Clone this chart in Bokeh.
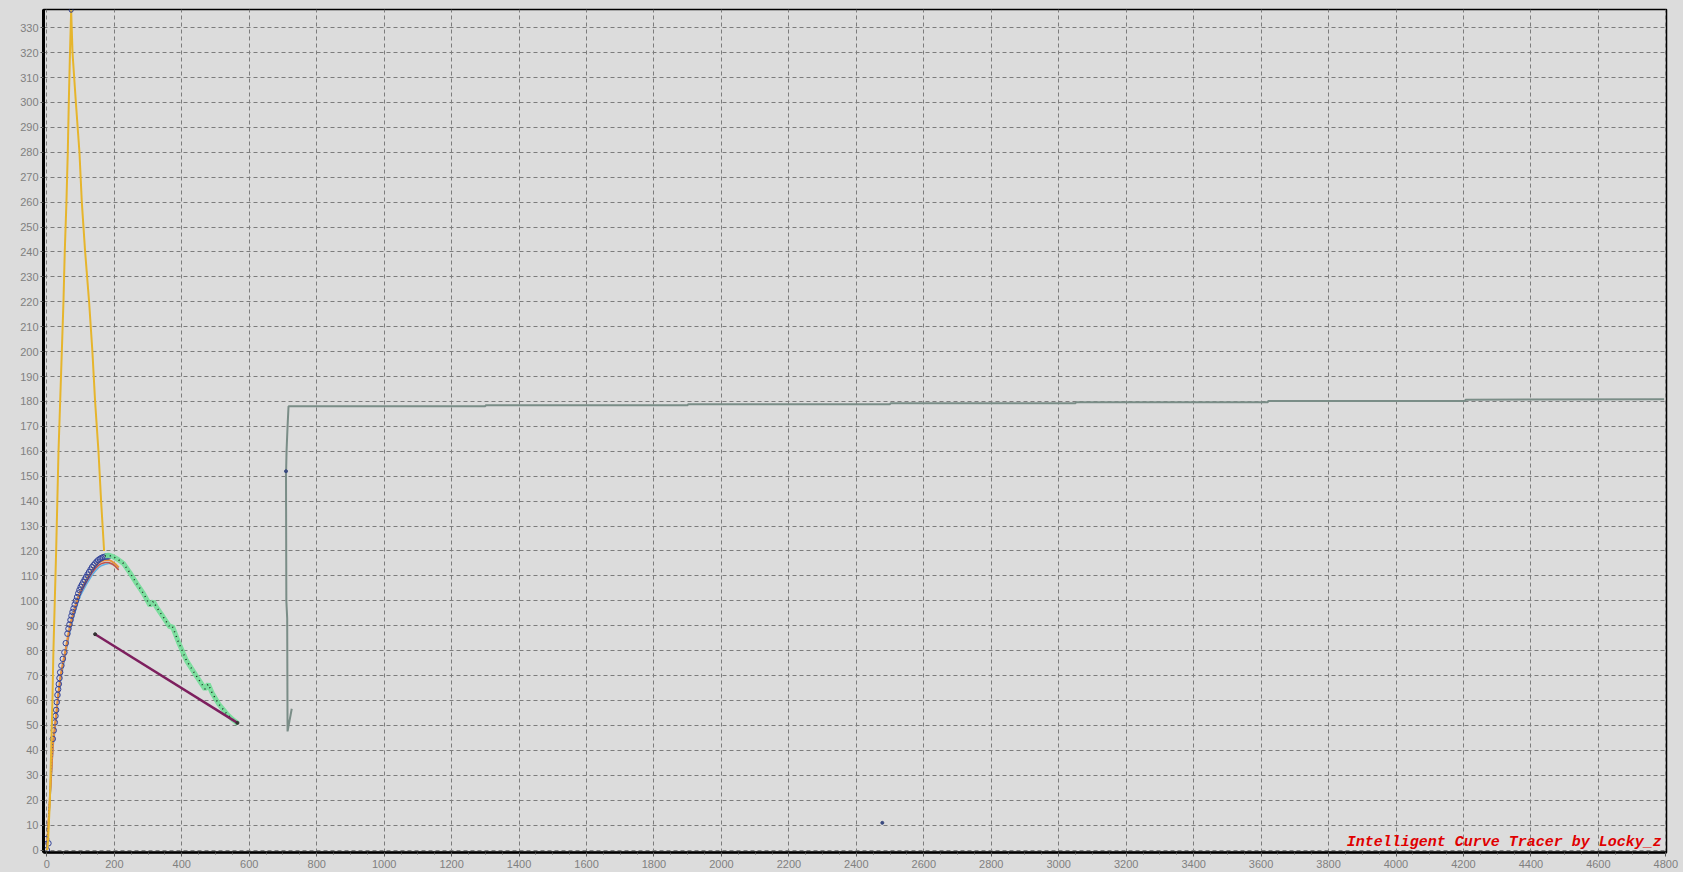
from bokeh.plotting import figure
from bokeh.models import SingleIntervalTicker, Range1d, Label
from bokeh.embed import file_html
from bokeh.resources import INLINE

# ---------------- data ----------------
yellow_x = [1, 4, 9, 12.7, 16.5, 19.4, 27.5, 34.5, 39.4, 44.3, 49.2, 53, 58, 62, 65, 68, 72,
            76, 86, 96.6, 103.6, 113.5, 125.2, 135, 143, 153, 160.8, 169.7]
yellow_y = [0, 5, 20, 40, 60, 80, 120, 160, 180, 200, 220, 240, 260, 280, 300, 317, 337,
            320, 300, 280, 260, 240, 220, 200, 180, 160, 140, 120]

circ_x = [0, 4.7, -2, 17.6, 20.5, 23.6, 25.5, 27.5, 29.5, 31.5, 33.5, 35.4, 37.4, 39.4, 43, 47.3,
          52, 56, 61, 64, 67, 70, 73, 76, 79, 82.5, 86, 89.5, 93, 96.5, 100, 104, 108, 112,
          116, 120.5, 125, 129.5, 134, 138.5, 143, 147.5, 152, 157, 162, 167, 172, 177, 182]
circ_y = [0, 2.7, 4.4, 44.6, 48, 51.2, 53.8, 56.2, 59.3, 62.2, 64.5, 66.6, 69, 71.3, 74, 76.7,
          79.3, 83, 86.8, 88.8, 90.5, 92.3, 94, 95.5, 96.9, 98.5, 100, 101.5, 103, 104.3, 105.5,
          106.5, 107.5, 108.5, 109.5, 110.5, 111.5, 112.5, 113.5, 114.3, 115, 115.7, 116.3,
          116.8, 117.2, 117.5, 117.7, 117.8, 117.8]

curve_x = [0, 10, 18, 24, 28, 32, 36, 40, 48, 53, 62, 68, 74, 80, 87, 94, 101, 109, 117, 126,
           135, 144, 153, 163, 173, 183, 193, 203, 213]
orange_y = [0, 24, 43, 50, 55, 60.5, 65, 69.5, 75.5, 78.5, 85.5, 89.5, 93, 96, 99, 102, 104.5,
            106.5, 108.5, 110.5, 112.5, 114, 115.2, 116, 116.4, 116.4, 115.8, 114.8, 113.4]
red_y = [0, 23, 42, 49, 54, 59.5, 64, 68.5, 74.5, 77.5, 84.5, 88.5, 92, 95, 98, 101, 103.5,
         105.5, 107.5, 109.5, 111.5, 113, 114.2, 115, 115.4, 115.4, 114.8, 113.8, 112.4]
lblue_y = [0, 22, 41, 48, 53, 58.5, 63, 67.5, 73.5, 76.5, 83.5, 87.5, 91, 94, 97, 100, 102.5,
           104.5, 106.5, 108.5, 110.5, 112, 113.3, 114.2, 114.7, 115, 115, 114.3, 113]

green_x = [172, 182, 195, 210, 227, 246, 266, 286, 306, 316, 325, 345, 365, 372, 390, 414, 440,
           469, 478.5, 490, 510, 533, 550, 567]
green_y = [118, 118.3, 117.8, 116.7, 115, 111.3, 107, 103, 98.1, 99.8, 97.5, 93.5, 89.4, 89.8,
           83.5, 76, 70.5, 64.6, 66.6, 63, 58.5, 54.7, 52.5, 50.7]

purple_x = [143, 565]
purple_y = [86.6, 51]

gray_x = [726, 713.6, 712.5, 710, 709, 710.6, 713.6, 716.5, 1300, 1301, 1900, 1901, 2500, 2501,
          3050, 3051, 3620, 3621, 4205, 4206, 4795]
gray_y = [56.7, 47.6, 93, 100, 150, 160, 170, 178.1, 178.1, 178.5, 178.5, 178.9, 178.9, 179.3,
          179.3, 179.7, 179.7, 180.2, 180.2, 180.7, 180.9]

peak_x = [72]
peak_y = [337]
dot_x = [2477, 709]
dot_y = [10.9, 152]

x_tick_step = 200
y_tick_step = 10
credit = "Intelligent Curve Tracer by Locky_z"

# ---------------- figure ----------------
BG = "#dcdcdc"
p = figure(width=1683, height=872, x_range=Range1d(-10, 4802), y_range=Range1d(-1, 337.3),
           output_backend="svg", toolbar_location=None)
p.background_fill_color = BG
p.border_fill_color = BG
p.min_border_left = 43
p.min_border_right = 17
p.min_border_top = 9
p.min_border_bottom = 20
p.outline_line_color = "black"
p.outline_line_width = 1.5

p.xaxis.ticker = SingleIntervalTicker(interval=x_tick_step, num_minor_ticks=4)
p.yaxis.ticker = SingleIntervalTicker(interval=y_tick_step, num_minor_ticks=0)
p.xgrid.ticker = SingleIntervalTicker(interval=x_tick_step)
p.ygrid.ticker = SingleIntervalTicker(interval=y_tick_step)

for ax in (p.xaxis, p.yaxis):
    ax.axis_line_color = "black"
    ax.major_tick_line_color = "#555555"
    ax.minor_tick_line_color = "#555555"
    ax.major_tick_in = 0
    ax.minor_tick_in = 0
    ax.major_label_text_color = "#808080"
    ax.major_label_text_font = "Liberation Sans"
    ax.major_label_text_font_size = "11px"
p.xaxis.axis_line_width = 2.5
p.yaxis.axis_line_width = 3
p.xaxis.major_tick_out = 4
p.xaxis.minor_tick_out = 2
p.xaxis.major_label_standoff = 3
p.yaxis.major_tick_out = 3
p.yaxis.minor_tick_out = 0
p.yaxis.major_label_standoff = 2

for g in (p.xgrid, p.ygrid):
    g.grid_line_color = "#7c7c7c"
    g.grid_line_dash = "4 3"
    g.grid_line_width = 1

# ---------------- series ----------------
p.line(curve_x, lblue_y, line_color="#5fb0e6", line_width=1.5)
p.line(curve_x, red_y, line_color="#c2504a", line_width=1.5)
p.line(curve_x, orange_y, line_color="#e8913a", line_width=2)
p.line([0, circ_x[3]], [0, circ_y[3]], line_color="#2e3f8f", line_width=1, line_dash="1 2")
p.scatter(circ_x, circ_y, marker="circle", size=5.5, line_color="#34449a", fill_color=None,
          line_width=1)
p.line(green_x, green_y, line_color="#72de98", line_width=5, line_alpha=0.9)
p.line(green_x, green_y, line_color="#1a2e22", line_width=1.5, line_dash="1 4")
p.line(purple_x, purple_y, line_color="#7d1f5e", line_width=2.5)
p.scatter(purple_x, purple_y, marker="circle", size=3, line_color="#333333", fill_color="#333333")
p.line(yellow_x, yellow_y, line_color="#e6b52c", line_width=2)
p.line(gray_x, gray_y, line_color="#7a8d87", line_width=2)
p.scatter(peak_x, peak_y, marker="circle", size=4, line_color="#2e3f8f", fill_color=None)
p.scatter(dot_x, dot_y, marker="circle", size=3, line_color="#3a4a80", fill_color="#3a4a80")

p.add_layout(Label(x=4788, y=3, text=credit, text_align="right", text_baseline="alphabetic",
                   text_color="#e00000", text_font="Liberation Mono", text_font_size="15px",
                   text_font_style="bold italic"))

html = file_html(p, INLINE, title="Intelligent Curve Tracer")
html = html.replace("</head>",
                    "<style>html,body{margin:0;padding:0;background:#dcdcdc;overflow:hidden}</style></head>")
open("out.html", "w").write(html)
